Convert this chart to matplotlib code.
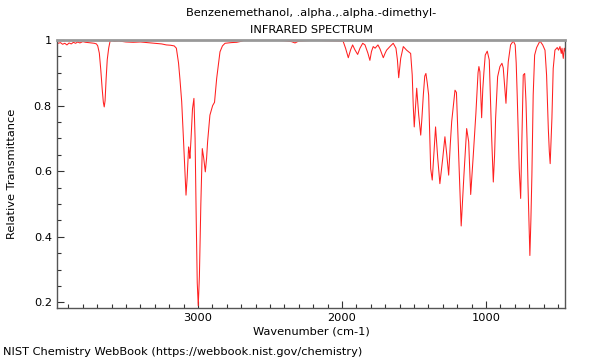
import matplotlib
matplotlib.use("Agg")
import matplotlib.pyplot as plt
from matplotlib.ticker import MultipleLocator, FixedLocator, FuncFormatter

title_line1 = "Benzenemethanol, .alpha.,.alpha.-dimethyl-"
title_line2 = "INFRARED SPECTRUM"
x_label = "Wavenumber (cm-1)"
y_label = "Relative Transmittance"
footer = "NIST Chemistry WebBook (https://webbook.nist.gov/chemistry)"

wavenumber = [
    3981, 3970, 3955, 3940, 3925, 3910, 3895, 3880, 3865, 3850, 3835, 3820, 3800, 3780,
    3760, 3740, 3720, 3705, 3696, 3685, 3675, 3665, 3657, 3651, 3645, 3638, 3630, 3620,
    3611, 3600, 3580, 3550, 3500, 3450, 3400, 3350, 3300, 3252, 3220, 3190, 3165, 3150,
    3135, 3125, 3113, 3102, 3092, 3083, 3075, 3065, 3060, 3056, 3048, 3038, 3028, 3020,
    3012, 3005, 2998, 2990, 2980, 2970, 2960, 2949, 2940, 2933, 2917, 2898, 2885, 2870,
    2847, 2830, 2812, 2770, 2731, 2700, 2674, 2600, 2500, 2400, 2350, 2326, 2300, 2200,
    2100, 2000, 1991, 1975, 1956, 1940, 1926, 1910, 1891, 1875, 1856, 1840, 1820, 1806,
    1795, 1783, 1770, 1750, 1736, 1713, 1700, 1690, 1667, 1644, 1625, 1615, 1606, 1598,
    1592, 1574, 1551, 1523, 1512, 1505, 1498, 1490, 1481, 1467, 1453, 1445, 1435, 1425,
    1417, 1408, 1398, 1384, 1373, 1362, 1350, 1335, 1320, 1300, 1285, 1272, 1259, 1248,
    1238, 1215, 1205, 1190, 1172, 1160, 1153, 1134, 1120, 1106, 1095, 1088, 1070, 1055,
    1049, 1042, 1030, 1022, 1014, 1005, 991, 977, 961, 949, 940, 933, 919, 903,
    889, 880, 870, 861, 853, 845, 829, 810, 797, 790, 783, 775, 769, 759,
    750, 741, 731, 722, 715, 708, 700, 695, 688, 681, 672, 662, 648, 625,
    606, 590, 579, 567, 560, 554, 542, 533, 521, 505, 496, 486, 477, 472,
    463, 456, 449,
]
transmittance = [
    0.993, 0.990, 0.992, 0.987, 0.990, 0.985, 0.991, 0.988, 0.993, 0.990, 0.994, 0.991, 0.995, 0.993,
    0.992, 0.991, 0.990, 0.988, 0.982, 0.960, 0.910, 0.850, 0.810, 0.796, 0.815, 0.880, 0.940, 0.975,
    0.995, 0.998, 0.996, 0.997, 0.994, 0.993, 0.994, 0.992, 0.990, 0.988, 0.985, 0.984, 0.982, 0.975,
    0.930, 0.880, 0.812, 0.710, 0.610, 0.527, 0.580, 0.674, 0.660, 0.639, 0.700, 0.790, 0.822, 0.700,
    0.450, 0.260, 0.190, 0.280, 0.500, 0.669, 0.640, 0.598, 0.640, 0.690, 0.771, 0.800, 0.810, 0.883,
    0.964, 0.982, 0.990, 0.992, 0.993, 0.996, 1.000, 0.999, 1.000, 0.998, 0.995, 0.991, 0.997, 0.999,
    0.998, 0.997, 0.995, 0.975, 0.946, 0.970, 0.985, 0.970, 0.956, 0.975, 0.990, 0.985, 0.960, 0.938,
    0.965, 0.980, 0.975, 0.985, 0.973, 0.946, 0.960, 0.969, 0.980, 0.990, 0.975, 0.940, 0.885, 0.920,
    0.944, 0.980, 0.969, 0.959, 0.893, 0.800, 0.735, 0.790, 0.853, 0.771, 0.710, 0.760, 0.832, 0.890,
    0.898, 0.870, 0.832, 0.608, 0.573, 0.650, 0.735, 0.640, 0.562, 0.640, 0.705, 0.650, 0.588, 0.680,
    0.751, 0.847, 0.840, 0.659, 0.433, 0.530, 0.588, 0.730, 0.690, 0.529, 0.600, 0.649, 0.776, 0.900,
    0.919, 0.903, 0.763, 0.850, 0.903, 0.954, 0.966, 0.939, 0.710, 0.567, 0.650, 0.761, 0.888, 0.919,
    0.929, 0.915, 0.860, 0.807, 0.880, 0.934, 0.985, 0.997, 0.985, 0.930, 0.832, 0.700, 0.608, 0.517,
    0.710, 0.893, 0.898, 0.812, 0.700, 0.557, 0.420, 0.343, 0.450, 0.588, 0.832, 0.954, 0.977, 0.997,
    0.985, 0.969, 0.893, 0.730, 0.660, 0.623, 0.761, 0.913, 0.969, 0.977, 0.969, 0.980, 0.959, 0.975,
    0.944, 0.975, 0.965,
]

x_major = [3000, 2000, 1000]
y_major = [0.2, 0.4, 0.6, 0.8, 1.0]

FS = 8.2

fig = plt.figure(figsize=(6, 3.6), dpi=100)
ax = fig.add_axes([56.7 / 600, 1 - 308.3 / 360, (565.3 - 56.7) / 600, (308.3 - 40) / 360])
ax.plot(wavenumber, transmittance, color="#ff2020", lw=0.75)
ax.set_xlim(3981, 449)
ax.set_ylim(0.182, 1.0)

ax.xaxis.set_major_locator(FixedLocator(x_major))
ax.xaxis.set_minor_locator(MultipleLocator(100))
ax.yaxis.set_major_locator(FixedLocator(y_major))
ax.yaxis.set_minor_locator(MultipleLocator(0.05))
ax.yaxis.set_major_formatter(FuncFormatter(lambda v, p: "1" if abs(v - 1) < 1e-9 else f"{v:.1f}"))
ax.tick_params(axis="both", which="both", direction="in", top=False, right=False,
               labelsize=FS, colors="#333333", labelcolor="black")
ax.tick_params(which="major", length=5, width=0.8)
ax.tick_params(which="minor", length=3, width=0.8)

for s in ["left", "bottom", "right"]:
    ax.spines[s].set_color("#555555")
    ax.spines[s].set_linewidth(1.0)
ax.spines["top"].set_color("#999999")
ax.spines["top"].set_linewidth(2.0)

ax.set_xlabel(x_label, fontsize=FS)
ax.xaxis.set_label_coords(0.5, -18 / 268.3, transform=ax.transAxes)
ax.set_ylabel(y_label, fontsize=FS)
ax.yaxis.set_label_coords(-40.0 / 508.6, 0.5, transform=ax.transAxes)
fig.text(311 / 600, 1 - 13 / 360, title_line1, ha="center", va="center", fontsize=FS)
fig.text(311 / 600, 1 - 30 / 360, title_line2, ha="center", va="center", fontsize=FS)
fig.text(3 / 600, 1 - 352 / 360, footer, ha="left", va="center", fontsize=FS)

fig.savefig("out.png", dpi=100)
